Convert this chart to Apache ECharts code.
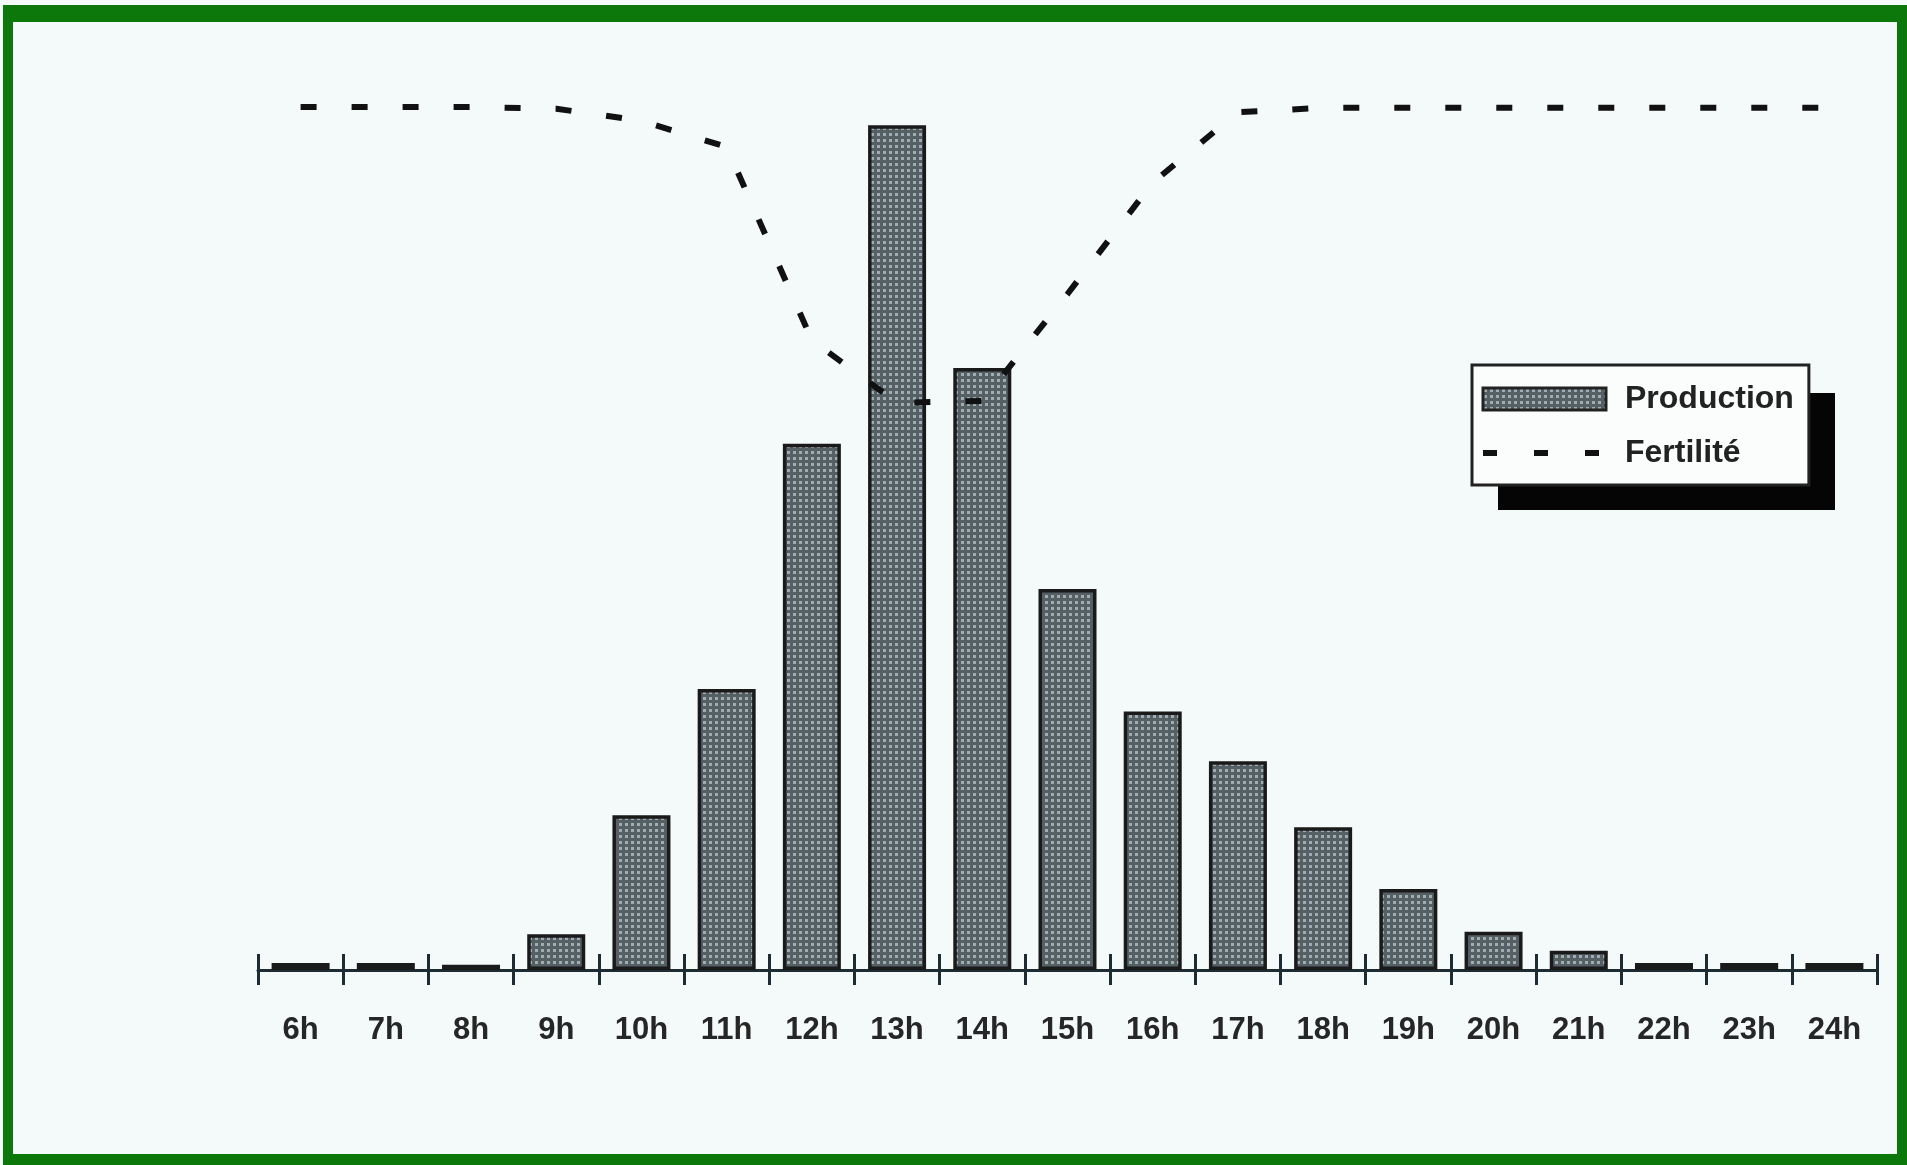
<!DOCTYPE html>
<html>
<head>
<meta charset="utf-8">
<script src="https://cdn.jsdelivr.net/npm/echarts@6/dist/echarts.min.js"></script>
<style>
  html, body { margin: 0; padding: 0; background: #f4fafa; }
  #frame {
    position: absolute; left: 3px; top: 5px;
    width: 1884px; height: 1132px;
    border-style: solid; border-color: #0c780c;
    border-width: 17px 10px 11px 10px;
    background: #f4fafa;
  }
  #chart { position: absolute; left: 0; top: 0; width: 1907px; height: 1165px; }
</style>
</head>
<body>
<div id="frame"></div>
<div id="chart"></div>
<script>
// Hours of the day
const hours = ['6h', '7h', '8h', '9h', '10h', '11h', '12h', '13h', '14h', '15h',
               '16h', '17h', '18h', '19h', '20h', '21h', '22h', '23h', '24h'];

// Production per hour (relative units)
const production = [0.8, 0.8, 0.6, 4.1, 17.8, 32.3, 60.5, 97.1, 69.2, 43.8,
                    29.7, 24.0, 16.4, 9.3, 4.4, 2.2, 0.8, 0.8, 0.8];

// Fertility per hour (relative units)
const fertilite = [99.2, 99.2, 99.2, 99.0, 97.6, 94.6, 72.4, 65.2, 65.4, 77.7,
                   90.5, 98.6, 99.1, 99.1, 99.1, 99.1, 99.1, 99.1, 99.1];

// Grey screen-tone fill used for the bars
function screenTone() {
  const c = document.createElement('canvas');
  c.width = 6; c.height = 6;
  const g = c.getContext('2d');
  g.fillStyle = '#556065';
  g.fillRect(0, 0, 6, 6);
  g.fillStyle = '#a0acb1';
  g.fillRect(1, 1, 3, 3);
  return c;
}
const tone = { image: screenTone(), repeat: 'repeat' };

const axisColor = '#1d2b33';
const font = 'Liberation Sans, Arial, sans-serif';

const chart = echarts.init(document.getElementById('chart'), null, { renderer: 'canvas' });
chart.setOption({
  backgroundColor: 'transparent',
  animation: false,
  grid: { left: 258, right: 30, top: 100, bottom: 195, containLabel: false },
  // solid drop shadow behind the legend box
  graphic: [
    {
      type: 'rect', left: 1498, top: 393, z: 0, silent: true,
      shape: { width: 337, height: 117 },
      style: { fill: '#050505' }
    }
  ],
  legend: {
    orient: 'vertical',
    left: 1472,
    top: 365,
    padding: [18, 15, 16, 8],
    itemWidth: 123,
    itemHeight: 22,
    itemGap: 22,
    z: 5,
    backgroundColor: '#fbfdfd',
    borderColor: '#222',
    borderWidth: 3,
    textStyle: {
      fontFamily: font, fontWeight: 'bold', fontSize: 32, color: '#222',
      lineHeight: 30, padding: [0, 0, 0, 14]
    },
    data: [
      { name: 'Production', icon: 'rect',
        itemStyle: { color: tone, borderColor: '#222', borderWidth: 3 } },
      { name: 'Fertilité',
        itemStyle: { opacity: 0, borderWidth: 0 },
        lineStyle: { color: '#111', width: 6, type: [14, 37], opacity: 1 } }
    ]
  },
  xAxis: [
    {
      type: 'category', data: hours, position: 'bottom', boundaryGap: true,
      axisLine: { show: true, lineStyle: { color: axisColor, width: 3 } },
      axisTick: { show: true, inside: true, length: 16, lineStyle: { color: axisColor, width: 3 } },
      axisLabel: { margin: 45, fontFamily: font, fontWeight: 'bold', fontSize: 31, color: '#262626' },
      splitLine: { show: false }
    },
    {
      type: 'category', data: hours, position: 'bottom', boundaryGap: true, offset: 0,
      axisLine: { show: false },
      axisTick: { show: true, inside: false, length: 15, lineStyle: { color: axisColor, width: 3 } },
      axisLabel: { show: false },
      splitLine: { show: false }
    }
  ],
  yAxis: [
    { type: 'value', min: 0, max: 100, show: false, splitLine: { show: false } },
    { type: 'value', min: 0, max: 100, show: false, splitLine: { show: false } }
  ],
  series: [
    {
      name: 'Production', type: 'bar', data: production,
      xAxisIndex: 0, yAxisIndex: 0, barWidth: 58,
      itemStyle: { color: tone, borderColor: '#1a1a1a', borderWidth: 3.5 }
    },
    {
      name: 'Fertilité', type: 'line', data: fertilite,
      xAxisIndex: 0, yAxisIndex: 1, symbol: 'none', smooth: false,
      itemStyle: { color: '#111' },
      lineStyle: { color: '#111', width: 6, type: [16, 35], cap: 'butt' },
      z: 5
    }
  ]
});
</script>
</body>
</html>
